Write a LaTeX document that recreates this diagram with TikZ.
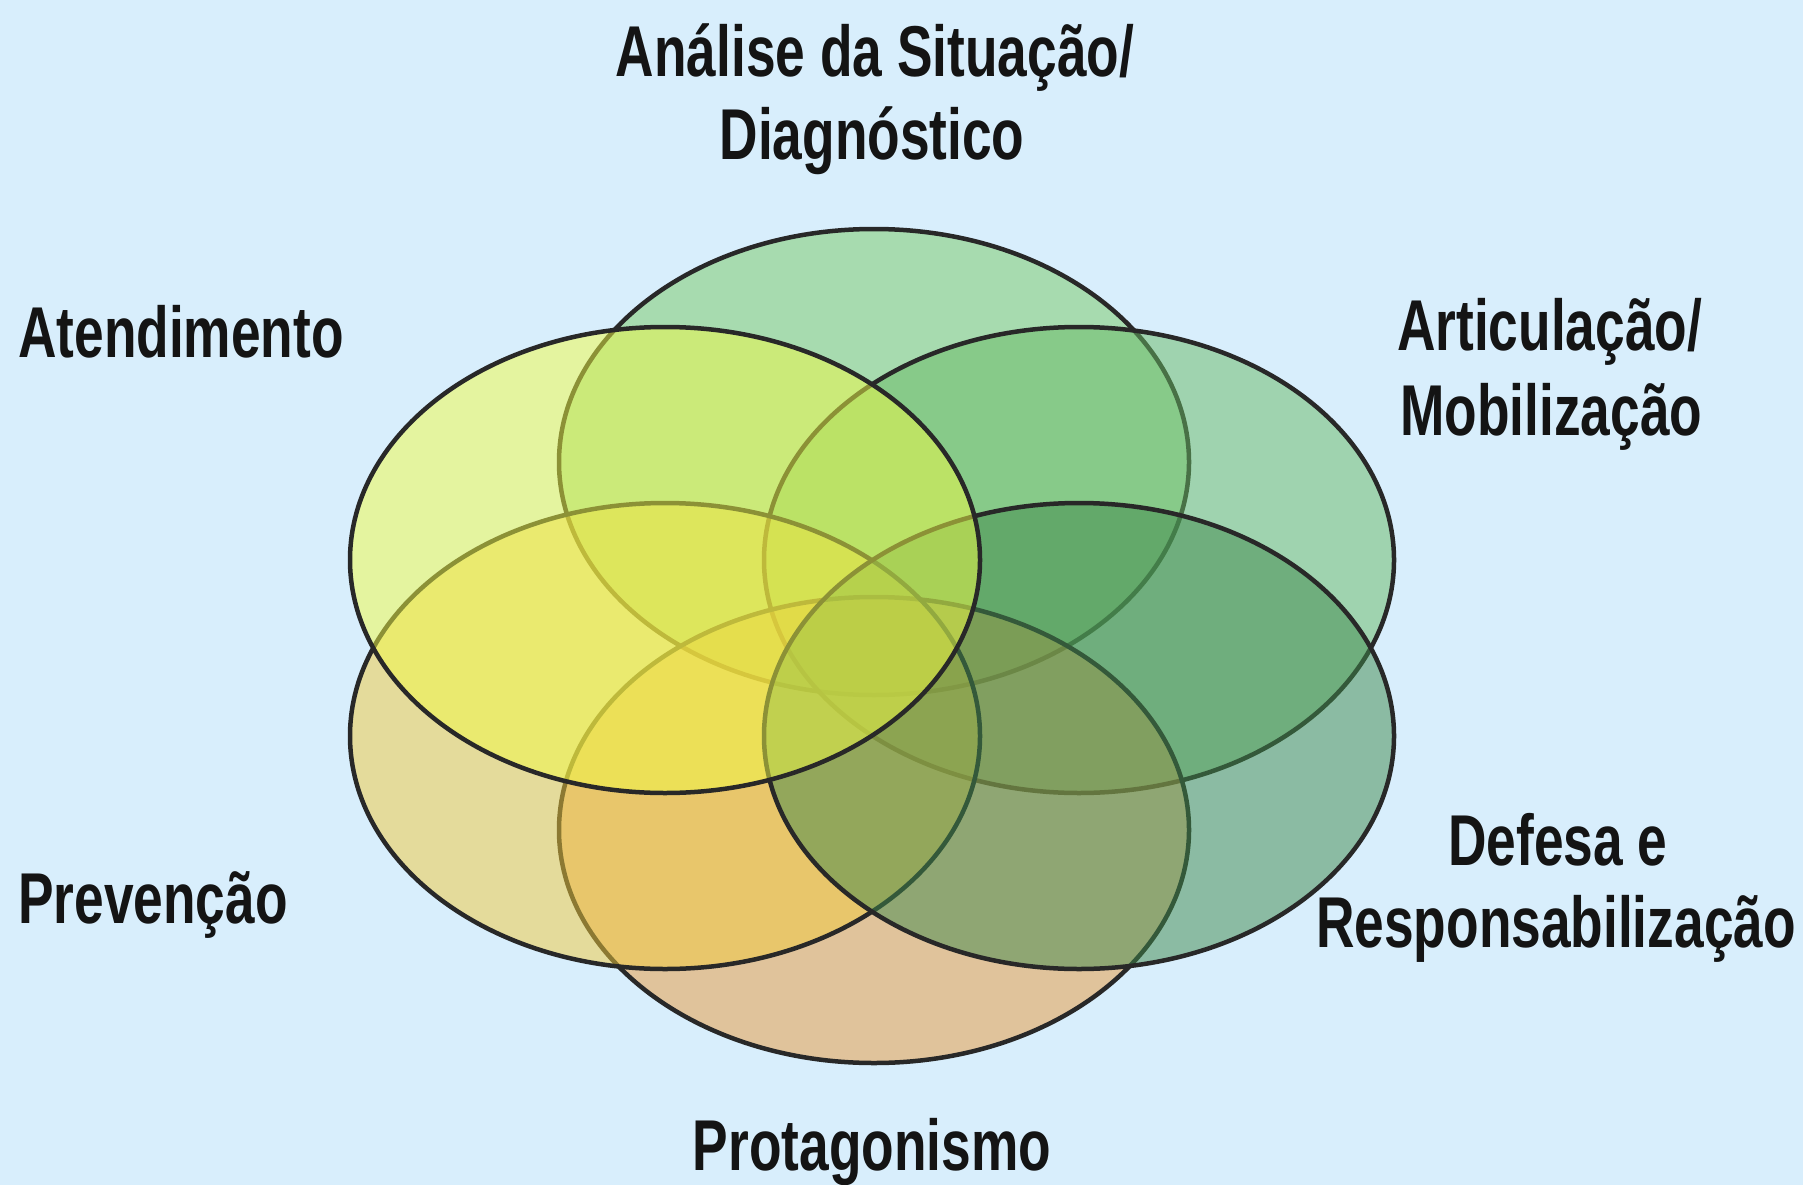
\documentclass[tikz,border=0pt]{standalone}
\usepackage{fontspec}
\newfontfamily\lab{Liberation Sans}[FakeStretch=0.74]
\definecolor{bg}{RGB}{216,238,252}
\definecolor{edge}{RGB}{40,40,40}
\definecolor{ink}{RGB}{20,20,20}
\definecolor{ctop}{RGB}{120,202,100}
\definecolor{clt}{RGB}{240,250,68}
\definecolor{crt}{RGB}{104,186,100}
\definecolor{clb}{RGB}{240,202,60}
\definecolor{cbot}{RGB}{232,154,60}
\definecolor{crb}{RGB}{64,138,76}
\begin{document}
\begin{tikzpicture}[x=1pt,y=-1pt,
  petal/.style={fill=#1, fill opacity=0.5, draw=edge, draw opacity=1, line width=4.5pt},
  lbl/.style={font=\lab\bfseries\fontsize{72}{80}\selectfont, text=ink, inner sep=0pt}]
\fill[bg] (0,0) rectangle (1803,1185);
\useasboundingbox (0,0) rectangle (1803,1185);
% ellipses
\filldraw[petal=ctop] (874,462) ellipse [x radius=315, y radius=233];
\filldraw[petal=crt]  (1079,560) ellipse [x radius=315, y radius=233];
\filldraw[petal=cbot] (874,830) ellipse [x radius=315, y radius=233];
\filldraw[petal=clb]  (665,736) ellipse [x radius=315, y radius=233];
\filldraw[petal=crb]  (1079,736) ellipse [x radius=315, y radius=233];
\filldraw[petal=clt]  (665,560) ellipse [x radius=315, y radius=233];
% labels
\node[lbl, anchor=base] (t1) at (875,77) {Análise da Situação/};
\node[lbl, anchor=base] (t2) at (872,160) {Diagnóstico};
\node[lbl, anchor=base west] (at) at (18,357) {Atendimento};
\node[lbl, anchor=base west] (ar1) at (1397,350) {Articulação/};
\node[lbl, anchor=base west] (ar2) at (1400,435) {Mobilização};
\node[lbl, anchor=base west] (pv) at (18,923) {Prevenção};
\node[lbl, anchor=base] (d1) at (1558,865) {Defesa e};
\node[lbl, anchor=base] (d2) at (1556,947) {Responsabilização};
\node[lbl, anchor=base] (pr) at (872,1170) {Protagonismo};
\end{tikzpicture}
\end{document}
